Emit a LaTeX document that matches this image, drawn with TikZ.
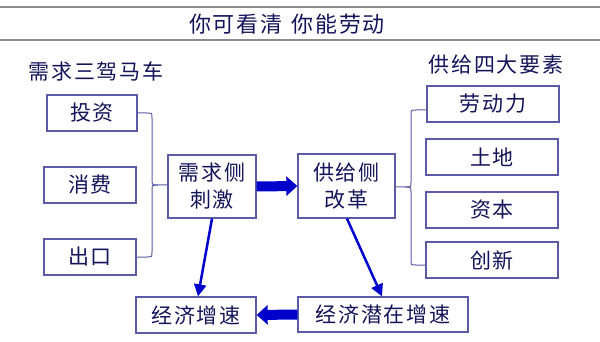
\documentclass[tikz,border=0pt]{standalone}
\usepackage{fontspec}
\usetikzlibrary{arrows.meta}
\newfontfamily\cjk[LetterSpace=8]{Noto Sans CJK SC}
\definecolor{txt}{HTML}{14145A}
\definecolor{bord}{HTML}{5B5BA8}
\definecolor{arr}{HTML}{0000CC}
\begin{document}
\begin{tikzpicture}[x=1pt,y=-1pt,
  box/.style={draw=bord,line width=1.3pt,fill=white,inner sep=0pt,text=txt,
    font=\cjk\fontsize{21}{27}\selectfont,align=center},
  lbl/.style={text=txt,font=\cjk\fontsize{21}{24}\selectfont,inner sep=0pt},
  thin/.style={draw=arr,line width=2.5pt,-{Triangle[length=12pt,width=12pt]}},
  thick/.style={draw=arr,line width=10pt,-{Triangle[length=11pt,width=19pt]}},
  brace/.style={draw=bord,line width=1pt}]
\useasboundingbox (0,0) rectangle (600,342);
\draw[gray!90,line width=2pt] (0,7) -- (600,7) (0,40) -- (600,40);
\node[lbl,font=\cjk\fontsize{22}{24}\selectfont] (title) at (287,24) {你可看清\hspace{9pt}你能劳动};
\node[lbl] (lefthead) at (96,71) {需求三驾马车};
\node[lbl] (righthead) at (496,65) {供给四大要素};
% left boxes
\node[box,minimum width=90pt,minimum height=36pt] (tz) at (92,113) {投资};
\node[box,minimum width=92pt,minimum height=36pt] (xf) at (90,185) {消费};
\node[box,minimum width=92pt,minimum height=36pt] (ck) at (90,257) {出口};
% middle
\node[box,minimum width=88pt,minimum height=63pt] (xq) at (212,186.5) {需求侧\\刺激};
\node[box,minimum width=97pt,minimum height=64pt] (gj) at (346.5,186) {供给侧\\改革};
\node[box,minimum width=120pt,minimum height=36pt] (zs) at (196,315) {经济增速};
\node[box,minimum width=170pt,minimum height=35pt] (qz) at (383,314.5) {经济潜在增速};
% right boxes
\node[box,minimum width=132pt,minimum height=36pt] (ld) at (493,104) {劳动力};
\node[box,minimum width=132pt,minimum height=36pt] (td) at (492,157) {土地};
\node[box,minimum width=132pt,minimum height=36pt] (zb) at (492,210) {资本};
\node[box,minimum width=132pt,minimum height=36pt] (cx) at (492,260) {创新};
% left brace
\draw[brace] (tz.east) -- (147,113) .. controls (152,113) .. (152,118) -- (152,179)
  .. controls (152,185) .. (158,185) -- (xq.west |- 0,185);
\draw[brace] (158,185) .. controls (152,185) .. (152,191) -- (152,252)
  .. controls (152,257) .. (147,257) -- (ck.east);
% right brace
\draw[brace] (ld.west |- 0,110) -- (416,110) .. controls (411,110) .. (411,115) -- (411,182)
  .. controls (411,187) .. (405,187) -- (gj.east |- 0,187);
\draw[brace] (405,187) .. controls (411,187) .. (411,192) -- (411,260)
  .. controls (411,265) .. (416,265) -- (cx.west |- 0,265);
% arrows
\draw[thick] (xq.east) -- (gj.west);
\draw[thick] (qz.west) -- (zs.east);
\draw[thin] (xq.south -| 212,0) -- (zs.north -| 198,0);
\draw[thin] (gj.south -| 347,0) -- (qz.north -| 382,0);
\end{tikzpicture}
\end{document}
